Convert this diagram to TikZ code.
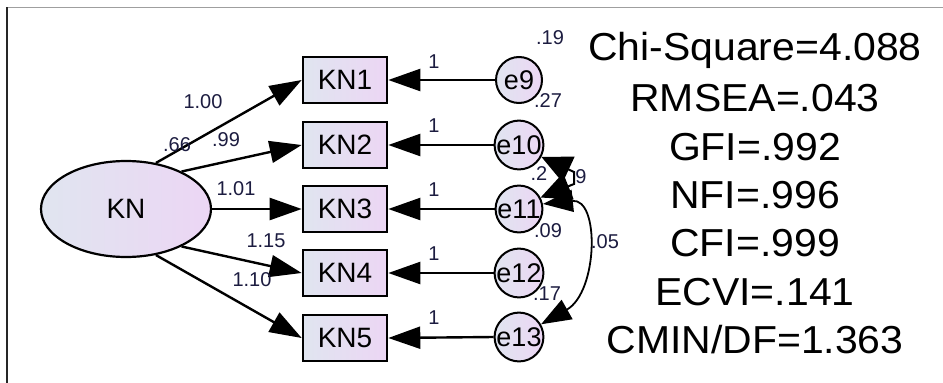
\documentclass[tikz,border=0pt]{standalone}
\usepackage{fontspec}
\setmainfont{Liberation Sans}
\usetikzlibrary{arrows.meta,shapes.geometric}
\definecolor{lblc}{RGB}{28,28,64}
\definecolor{fillA}{RGB}{224,229,240}
\definecolor{fillB}{RGB}{236,214,244}
\begin{document}
\begin{tikzpicture}[x=1pt,y=-1pt,
  obsbox/.style={draw=black, line width=2.6pt, minimum width=84pt, minimum height=46pt, inner sep=0pt,
    left color=fillA, right color=fillB, font=\fontsize{28}{28}\selectfont},
  latent/.style={ellipse, draw=black, line width=2.2pt, minimum width=170pt, minimum height=96pt, inner sep=0pt,
    left color=fillA, right color=fillB, font=\fontsize{28}{28}\selectfont},
  errc/.style={circle, draw=black, line width=2pt, minimum size=46pt, inner sep=0pt,
    left color=fillA, right color=fillB, font=\fontsize{27}{27}\selectfont},
  arr/.style={line width=2.4pt, -{Triangle[length=32pt,width=22pt]}},
  cova/.style={line width=1.8pt, {Triangle[length=30pt,width=22pt]}-{Triangle[length=30pt,width=22pt]}},
  covb/.style={line width=2pt, line join=miter, {Triangle[length=30pt,width=28pt]}-{Triangle[length=30pt,width=28pt]}},
  lbl/.style={text=lblc, inner sep=0pt, font=\fontsize{20}{20}\selectfont},
  fit/.style={inner sep=0pt, xscale=1.05, font=\fontsize{39}{39}\selectfont}
]
\useasboundingbox (0,0) rectangle (943,383);
\fill[white] (0,0) rectangle (943,383);
\draw[gray!75, line width=1pt] (6,7) -- (943,7);
\draw[black!85, line width=1.2pt] (7,7) -- (7,383);

% latent
\node[latent] (KN) at (126,209) {KN};
% observed
\node[obsbox] (KN1) at (345,80) {KN1};
\node[obsbox] (KN2) at (345,145) {KN2};
\node[obsbox] (KN3) at (345,209) {KN3};
\node[obsbox] (KN4) at (345,273) {KN4};
\node[obsbox] (KN5) at (345,338) {KN5};
% errors
\node[errc] (e9) at (519,80) {e9};
\node[errc] (e10) at (519,145) {e10};
\node[errc] (e11) at (519,209) {e11};
\node[errc] (e12) at (519,273) {e12};
\node[errc] (e13) at (519,337) {e13};

% loadings
\draw[arr] (KN.57) -- (KN1.west);
\draw[arr] (KN.34) -- (KN2.west);
\draw[arr] (KN.0) -- (KN3.west);
\draw[arr] (KN.-34) -- (KN4.west);
\draw[arr] (KN.-57) -- (KN5.west);
% error paths
\draw[arr] (e9.west) -- (KN1.east);
\draw[arr] (e10.west) -- (KN2.east);
\draw[arr] (e11.west) -- (KN3.east);
\draw[arr] (e12.west) -- (KN4.east);
\draw[arr] (e13.west) -- (KN5.east);

% label partly under arrows
\node[lbl] (v11) at (539,174) {.2};

% covariances
\coordinate (m1) at (574,172);
\coordinate (m2) at (574,184);
\draw[covb] (e10.-28) -- (m1) -- (m2) -- (e11.28);
\draw[cova] (e11.12) .. controls (600,198) and (598,292) .. (e13.30);

% path labels
\node[lbl] (l1) at (203,102) {1.00};
\node[lbl] (l66) at (177,145) {.66};
\node[lbl] (l2) at (226,140) {.99};
\node[lbl] (l3) at (236,189) {1.01};
\node[lbl] (l4) at (266,241) {1.15};
\node[lbl] (l5) at (252,280) {1.10};
\node[lbl] (o1) at (434,62) {1};
\node[lbl] (o2) at (434,126) {1};
\node[lbl] (o3) at (434,190) {1};
\node[lbl] (o4) at (434,254) {1};
\node[lbl] (o5) at (434,318) {1};
% variances
\node[lbl] (v9) at (550,38) {.19};
\node[lbl] (v10) at (548,101) {.27};
\node[lbl] (v12) at (548,231) {.09};
\node[lbl] (v13) at (547,294) {.17};
% covariance labels
\node[lbl] (c1) at (581,177) {9};
\node[lbl] (c2) at (605,242) {.05};

% fit indices
\node[fit] (f1) at (755,50) {Chi-Square=4.088};
\node[fit] (f2) at (755,98) {RMSEA=.043};
\node[fit] (f3) at (755,147) {GFI=.992};
\node[fit] (f4) at (755,195) {NFI=.996};
\node[fit] (f5) at (755,243) {CFI=.999};
\node[fit] (f6) at (755,292) {ECVI=.141};
\node[fit] (f7) at (755,340) {CMIN/DF=1.363};
\end{tikzpicture}
\end{document}
